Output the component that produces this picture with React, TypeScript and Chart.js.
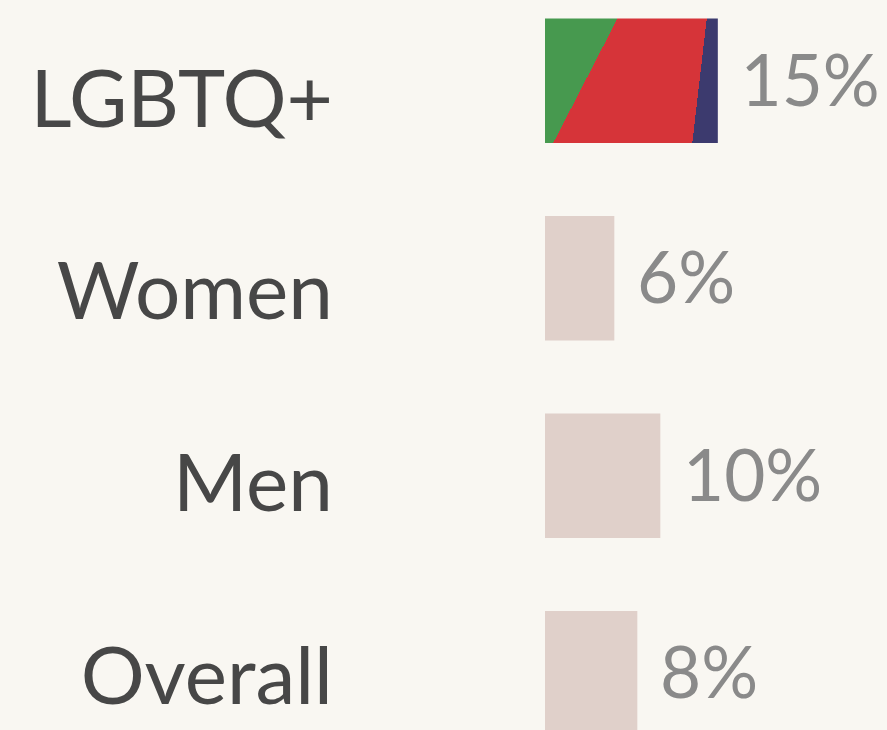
import React, { useEffect, useRef } from "react";
import { Chart, registerables } from "chart.js";

Chart.register(...registerables);

const CATEGORIES = ["LGBTQ+", "Women", "Men", "Overall"];
const VALUES = [15, 6, 10, 8];
const VALUE_LABELS = ["15%", "6%", "10%", "8%"];

const BG = "#f9f7f2";
const BAR = "#e0d0ca";
const GREEN = "#47994f";
const RED = "#d63439";
const NAVY = "#3c3a6e";
const FONT = "Lato, 'Noto Sans', sans-serif";
const BAR_THICK = 124;

const valueLabels = {
  id: "valueLabels",
  afterDatasetsDraw(chart: any) {
    const ctx = chart.ctx;
    const meta = chart.getDatasetMeta(0);
    ctx.save();
    ctx.font = `71px ${FONT}`;
    ctx.fillStyle = "#8a8a8a";
    ctx.textAlign = "left";
    ctx.textBaseline = "middle";
    meta.data.forEach((el: any, i: number) => {
      ctx.fillText(VALUE_LABELS[i], el.x + 23, el.y + 2);
    });
    ctx.restore();
  },
};

function prideFill(c: any) {
  if (c.type !== "data" || c.dataIndex !== 0) return BAR;
  const chart = c.chart;
  const xs = chart.scales.x;
  const ys = chart.scales.y;
  if (!xs || !ys || !chart.chartArea) return RED;
  const x0 = xs.getPixelForValue(0);
  const x1 = xs.getPixelForValue(VALUES[0]);
  const top = ys.getPixelForValue(0) - BAR_THICK / 2;
  const cx = x0 + 1.0878 * (x1 - x0);
  const cy = top - 1.802 * BAR_THICK;
  const g = chart.ctx.createConicGradient(0, cx, cy);
  const a = 96.62 / 360;
  const b = 117.3 / 360;
  g.addColorStop(0, NAVY);
  g.addColorStop(a, NAVY);
  g.addColorStop(a, RED);
  g.addColorStop(b, RED);
  g.addColorStop(b, GREEN);
  g.addColorStop(1, GREEN);
  return g;
}

export default function App() {
  const ref = useRef<HTMLCanvasElement | null>(null);
  useEffect(() => {
    if (!ref.current) return;
    const chart = new Chart(ref.current, {
      type: "bar",
      data: {
        labels: CATEGORIES,
        datasets: [
          {
            data: VALUES,
            backgroundColor: prideFill as any,
            borderWidth: 0,
            barThickness: BAR_THICK,
            yAxisID: "y",
          },
        ],
      },
      options: {
        indexAxis: "y",
        animation: false,
        responsive: true,
        maintainAspectRatio: false,
        layout: { padding: 0 },
        plugins: {
          legend: { display: false },
          tooltip: { enabled: false },
        },
        scales: {
          x: { display: false, min: 0, max: 29.74 },
          y: { display: false, type: "category" },
          yl: {
            type: "linear",
            position: "left",
            reverse: true,
            offset: false,
            min: -0.619,
            max: 3.489,
            bounds: "data",
            grid: { display: false, drawTicks: false, offset: false },
            border: { display: false },
            afterBuildTicks: (s: any) => {
              s.ticks = CATEGORIES.map((_, i) => ({ value: i }));
            },
            afterFit: (s: any) => {
              s.width = 545;
              s.paddingTop = 0;
              s.paddingBottom = 0;
            },
            ticks: {
              autoSkip: false,
              padding: 212,
              color: "#474747",
              font: { family: FONT, size: 80 },
              callback: (v: any) => CATEGORIES[v as number] ?? "",
            },
          },
        },
      },
      plugins: [valueLabels],
    } as any);
    return () => chart.destroy();
  }, []);

  return (
    <div
      style={{
        position: "fixed",
        left: 0,
        top: 0,
        width: 887,
        height: 730,
        overflow: "hidden",
        background: BG,
      }}
    >
      <div style={{ position: "absolute", left: 0, top: -18, width: 887, height: 790 }}>
        <canvas ref={ref} />
      </div>
    </div>
  );
}
